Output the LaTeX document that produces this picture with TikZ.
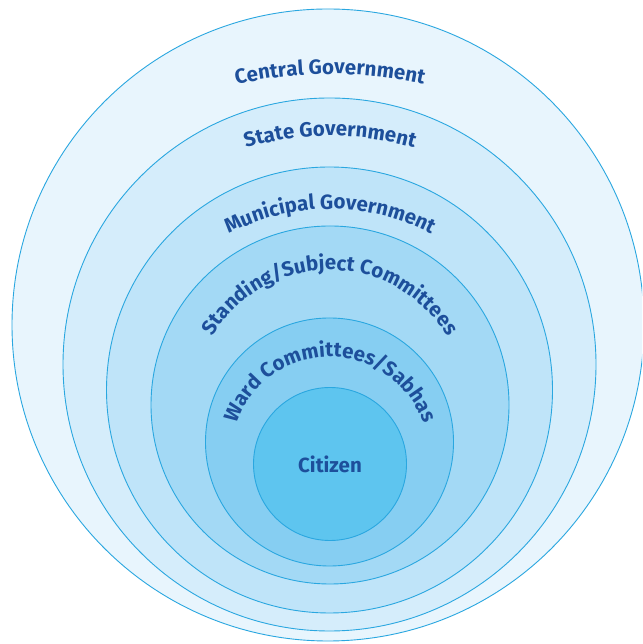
\documentclass[tikz,border=0pt]{standalone}
\usepackage{fontspec}
\setmainfont{Fira Sans}
\usetikzlibrary{decorations.text}
\definecolor{cA}{HTML}{E8F5FD}
\definecolor{cB}{HTML}{D5EDFB}
\definecolor{cC}{HTML}{BFE4F9}
\definecolor{cD}{HTML}{A3D9F5}
\definecolor{cE}{HTML}{86CEF2}
\definecolor{cF}{HTML}{5EC5EF}
\definecolor{rim}{HTML}{2AA7E0}
\definecolor{tc}{HTML}{1D4F9B}
\newcommand{\arcfont}{\bfseries\fontsize{20.5}{20.5}\selectfont}
\tikzset{
  ring/.style={circle, draw=rim, line width=0.9pt, inner sep=0pt, outer sep=0pt},
  arctext/.style={decorate, decoration={text along path, text align=center,
      text color=tc, text={|\arcfont|#1}}}
}
\begin{document}
\begin{tikzpicture}[x=1pt,y=1pt]
\clip (0,0) rectangle (642,644);
\fill[white] (0,0) rectangle (642,644);
\node[ring, fill=cA, minimum size=632pt] (central) at (328,319) {};
\node[ring, fill=cB, minimum size=533pt] (state) at (329.5,279.5) {};
\node[ring, fill=cC, minimum size=446pt] (municipal) at (329.5,254) {};
\node[ring, fill=cD, minimum size=358pt] (standing) at (330,239) {};
\node[ring, fill=cE, minimum size=248pt] (ward) at (329.5,202) {};
\node[ring, fill=cF, minimum size=153pt, text=tc, font=\arcfont] (citizen) at (330,180) {Citizen};
\coordinate (kA) at (330,150);
\coordinate (kB) at (330,208);
\coordinate (kC) at (330,218);
\coordinate (kD) at (330,237);
\coordinate (kE) at (330,188);
\path[arctext={Central Government}] ([shift={(130:420)}]kA) arc[start angle=130, end angle=50, radius=420];
\path[arctext={State Government}] ([shift={(135:300)}]kB) arc[start angle=135, end angle=45, radius=300];
\path[arctext={Municipal Government}] ([shift={(150:217)}]kC) arc[start angle=150, end angle=30, radius=217];
\path[arctext={Standing/Subject Committees}] ([shift={(190:137)}]kD) arc[start angle=190, end angle=-10, radius=137];
\path[arctext={Ward Committees/Sabhas}] ([shift={(200:99)}]kE) arc[start angle=200, end angle=-20, radius=99];
\end{tikzpicture}
\end{document}
